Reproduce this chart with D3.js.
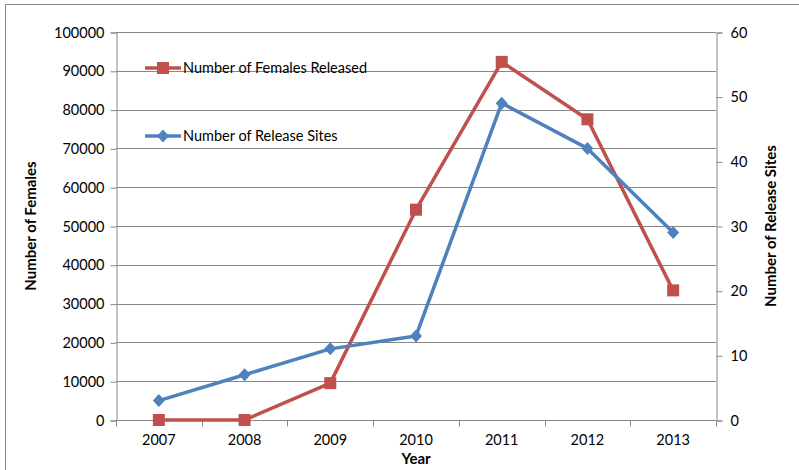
<!DOCTYPE html>
<html>
<head>
<meta charset="utf-8">
<script src="https://cdn.jsdelivr.net/npm/d3@7"></script>
<style>
  body { margin: 0; background: #fff; }
  text { font-family: Lato, "Open Sans", sans-serif; fill: #000; }
</style>
</head>
<body>
<svg id="chart" width="799" height="470"></svg>
<script>
// data
const years = ["2007", "2008", "2009", "2010", "2011", "2012", "2013"];
const femalesReleased = [0, 0, 9500, 54200, 92300, 77500, 33400];
const releaseSites = [3, 7, 11, 13, 49, 42, 29];
const leftTicks = [0, 10000, 20000, 30000, 40000, 50000, 60000, 70000, 80000, 90000, 100000];
const rightTicks = [0, 10, 20, 30, 40, 50, 60];

const svg = d3.select("#chart");
const m = { left: 116, right: 716, top: 32, bottom: 420 };
const red = "#C0504D", blue = "#4F81BD", grid = "#888888";

// chart frame
svg.append("rect")
    .attr("x", 5.5).attr("y", 4.5)
    .attr("width", 800).attr("height", 480)
    .attr("fill", "none").attr("stroke", grid).attr("stroke-width", 1);

const x = d3.scaleBand().domain(years).range([m.left, m.right]).padding(0);
const yL = d3.scaleLinear().domain([0, 100000]).range([m.bottom, m.top]);
const yR = d3.scaleLinear().domain([0, 60]).range([m.bottom, m.top]);

// gridlines
svg.append("g").selectAll("line")
    .data(leftTicks)
    .join("line")
    .attr("x1", m.left).attr("x2", m.right)
    .attr("y1", d => Math.round(yL(d)) + 0.5).attr("y2", d => Math.round(yL(d)) + 0.5)
    .attr("stroke", grid).attr("stroke-width", 1);

// left axis
const gL = svg.append("g")
    .attr("transform", `translate(${m.left + 0.5},0.5)`)
    .call(d3.axisLeft(yL).tickValues(leftTicks).tickSize(6).tickPadding(6).tickFormat(d3.format("d")));
gL.select(".domain").attr("stroke", grid);
gL.selectAll(".tick line").attr("stroke", grid);
gL.selectAll("text").attr("font-size", 14.5).attr("font-family", "Lato");

// right axis
const gR = svg.append("g")
    .attr("transform", `translate(${m.right + 0.5},0.5)`)
    .call(d3.axisRight(yR).tickValues(rightTicks).tickSize(6).tickPadding(8));
gR.select(".domain").attr("stroke", grid);
gR.selectAll(".tick line").attr("stroke", grid);
gR.selectAll("text").attr("font-size", 14.5).attr("font-family", "Lato");

// x axis, ticks on band edges
const gX = svg.append("g")
    .attr("transform", `translate(0,${m.bottom + 0.5})`);
gX.append("line")
    .attr("x1", m.left).attr("x2", m.right)
    .attr("stroke", grid);
const edges = years.map(d => x(d)).concat([m.right]);
gX.selectAll("line.tk")
    .data(edges)
    .join("line").attr("class", "tk")
    .attr("x1", d => Math.round(d) + 0.5).attr("x2", d => Math.round(d) + 0.5)
    .attr("y1", 0).attr("y2", 6)
    .attr("stroke", grid);
gX.selectAll("text")
    .data(years)
    .join("text")
    .attr("x", d => x(d) + x.bandwidth() / 2)
    .attr("y", 24)
    .attr("text-anchor", "middle")
    .attr("font-size", 14.5)
    .text(d => d);

// axis titles
svg.append("text")
    .attr("transform", "translate(36,226) rotate(-90)")
    .attr("text-anchor", "middle")
    .attr("font-size", 15).attr("font-weight", "bold")
    .text("Number of Females");
svg.append("text")
    .attr("transform", "translate(776,226) rotate(-90)")
    .attr("text-anchor", "middle")
    .attr("font-size", 15).attr("font-weight", "bold")
    .text("Number of Release Sites");
svg.append("text")
    .attr("x", 416).attr("y", 464)
    .attr("text-anchor", "middle")
    .attr("font-size", 15).attr("font-weight", "bold")
    .text("Year");

const cx = d => x(d) + x.bandwidth() / 2;
// square-ish diamond like the spreadsheet marker
const diamond = "M0,-6.5L6,0L0,6.5L-6,0Z";

// females released (left axis)
const lineL = d3.line().x((d, i) => cx(years[i])).y(d => yL(d));
svg.append("path")
    .datum(femalesReleased)
    .attr("d", lineL)
    .attr("fill", "none").attr("stroke", red).attr("stroke-width", 3.5)
    .attr("stroke-linejoin", "round");
svg.append("g").selectAll("rect")
    .data(femalesReleased)
    .join("rect")
    .attr("x", (d, i) => cx(years[i]) - 6)
    .attr("y", d => yL(d) - 6)
    .attr("width", 12).attr("height", 12)
    .attr("fill", red);

// release sites (right axis)
const lineR = d3.line().x((d, i) => cx(years[i])).y(d => yR(d));
svg.append("path")
    .datum(releaseSites)
    .attr("d", lineR)
    .attr("fill", "none").attr("stroke", blue).attr("stroke-width", 3.5)
    .attr("stroke-linejoin", "round");
svg.append("g").selectAll("path")
    .data(releaseSites)
    .join("path")
    .attr("transform", (d, i) => `translate(${cx(years[i])},${yR(d)})`)
    .attr("d", diamond)
    .attr("fill", blue);

// legend
const legend = [
  { label: "Number of Females Released", color: red, shape: "square", y: 68 },
  { label: "Number of Release Sites", color: blue, shape: "diamond", y: 136 }
];
const lg = svg.append("g").selectAll("g")
    .data(legend)
    .join("g")
    .attr("transform", d => `translate(145,${d.y})`);
lg.append("line")
    .attr("x1", 0).attr("x2", 36)
    .attr("stroke", d => d.color).attr("stroke-width", 3.5);
lg.filter(d => d.shape === "square").append("rect")
    .attr("x", 12).attr("y", -6).attr("width", 12).attr("height", 12)
    .attr("fill", d => d.color);
lg.filter(d => d.shape === "diamond").append("path")
    .attr("transform", "translate(18,0)")
    .attr("d", diamond)
    .attr("fill", d => d.color);
lg.append("text")
    .attr("x", 38).attr("y", 5)
    .attr("font-size", 14.5)
    .text(d => d.label);
</script>
</body>
</html>
